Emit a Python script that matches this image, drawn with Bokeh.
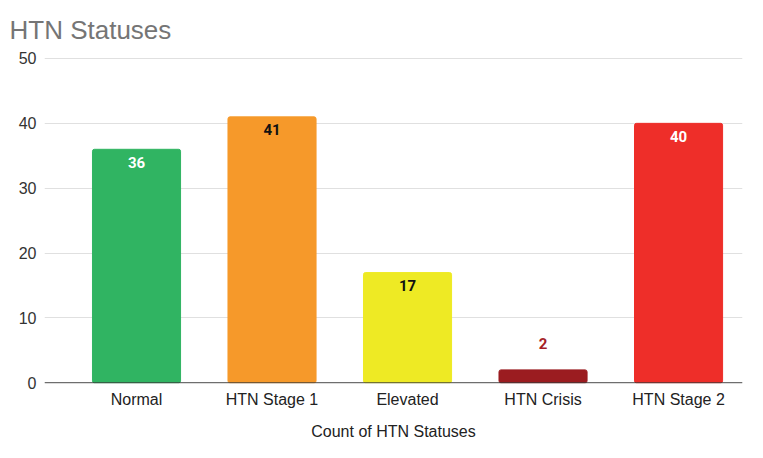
from bokeh.plotting import figure
from bokeh.models import ColumnDataSource, Range1d, FixedTicker, Span, LabelSet
from bokeh.core.properties import value
from bokeh.embed import file_html
from bokeh.resources import INLINE

title_text = "HTN Statuses"
x_title = "Count of HTN Statuses"
categories = ["Normal", "HTN Stage 1", "Elevated", "HTN Crisis", "HTN Stage 2"]
counts = [36, 41, 17, 2, 40]
bar_colors = ["#30b462", "#f6992a", "#eeea24", "#9b1c20", "#ee2e29"]
label_colors = ["#ffffff", "#111111", "#111111", "#a51f27", "#ffffff"]
y_ticks = [0, 10, 20, 30, 40, 50]

xs = list(range(len(categories)))
inside = [c > 5 for c in counts]
src = ColumnDataSource(dict(
    x=xs, top=counts, color=bar_colors, lcolor=label_colors,
    text=[str(c) for c in counts],
    yoff=[-13 if i else 26 for i in inside],
))

p = figure(width=747, height=442, output_backend="svg", toolbar_location=None,
           x_range=Range1d(-0.679, 4.472), y_range=Range1d(-0.1, 50.15),
           min_border_left=44, min_border_right=5, min_border_top=57, min_border_bottom=52)
p.outline_line_color = None
p.background_fill_color = "white"

p.vbar(x="x", top="top", width=0.65, bottom=0, color="color", source=src, border_radius=2)

labels = LabelSet(x="x", y="top", text="text", source=src, text_align="center",
                  text_baseline="middle", y_offset="yoff", text_color="lcolor",
                  text_font=value("Roboto"), text_font_size="15px", text_font_style="bold")
p.add_layout(labels)

p.add_layout(Span(location=0, dimension="width", line_color="#333333", line_width=1))

# title
p.title.text = title_text
p.title.text_font = "Liberation Sans"
p.title.text_font_size = "26px"
p.title.text_font_style = "normal"
p.title.text_color = "#757575"
p.title.text_line_height = 0.9
p.title.align = "left"
p.title.vertical_align = "top"
p.title.offset = -35
p.title.standoff = 22

# y axis
p.yaxis.ticker = FixedTicker(ticks=y_ticks)
p.yaxis.axis_line_color = None
p.yaxis.major_tick_line_color = None
p.yaxis.minor_tick_line_color = None
p.yaxis.major_tick_out = 0
p.yaxis.major_tick_in = 0
p.yaxis.major_label_standoff = 8
p.yaxis.major_label_text_font = "Liberation Sans"
p.yaxis.major_label_text_font_size = "16px"
p.yaxis.major_label_text_color = "#333333"
p.ygrid.ticker = FixedTicker(ticks=y_ticks)
p.ygrid.grid_line_color = "#e0e0e0"
p.xgrid.grid_line_color = None

# x axis
p.xaxis.ticker = FixedTicker(ticks=xs)
p.xaxis.major_label_overrides = {i: c for i, c in zip(xs, categories)}
p.xaxis.axis_line_color = None
p.xaxis.major_tick_line_color = None
p.xaxis.minor_tick_line_color = None
p.xaxis.major_tick_out = 0
p.xaxis.major_tick_in = 0
p.xaxis.major_label_standoff = 7
p.xaxis.major_label_text_font = "Liberation Sans"
p.xaxis.major_label_text_font_size = "16px"
p.xaxis.major_label_text_color = "#222222"
p.xaxis.axis_label = x_title
p.xaxis.axis_label_text_font = "Liberation Sans"
p.xaxis.axis_label_text_font_size = "16px"
p.xaxis.axis_label_text_font_style = "normal"
p.xaxis.axis_label_text_color = "#222222"
p.xaxis.axis_label_standoff = 12

open("out.html", "w").write(file_html(p, INLINE))
